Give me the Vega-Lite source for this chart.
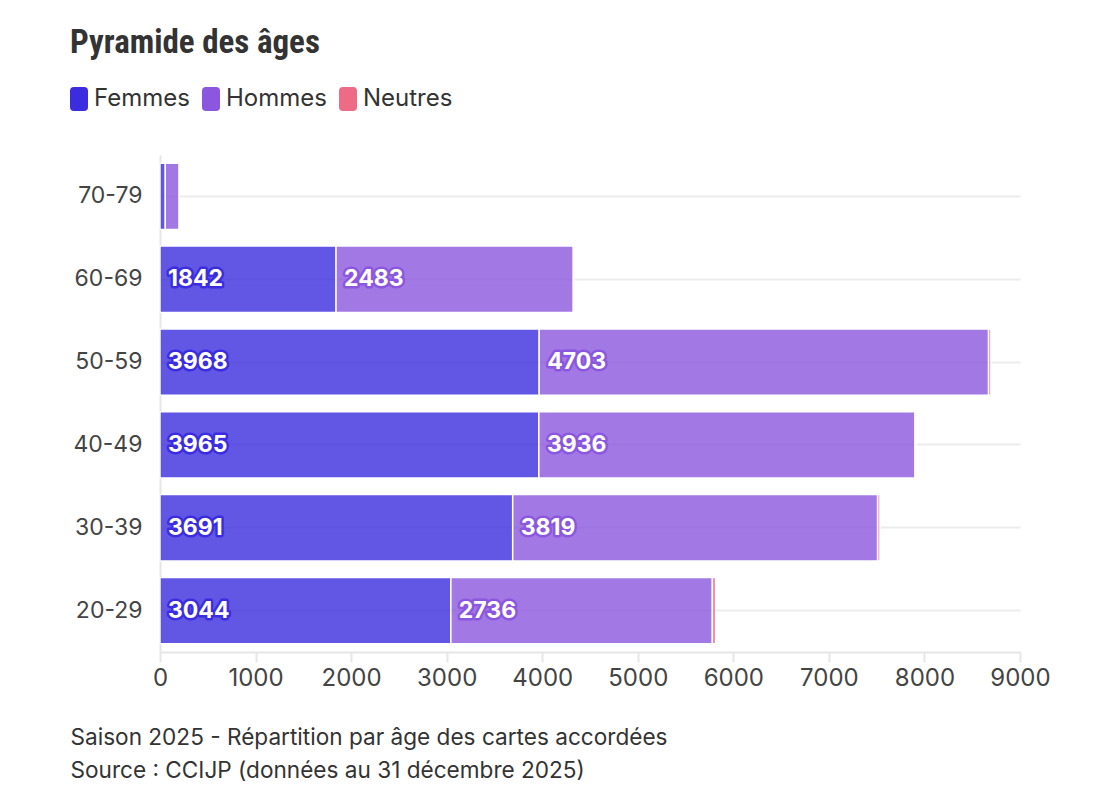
{
  "$schema": "https://vega.github.io/schema/vega-lite/v6.json",
  "width": 860,
  "height": 497,
  "autosize": "none",
  "padding": {"left": 160, "top": 155, "right": 90, "bottom": 158},
  "background": "white",
  "view": {"stroke": null},
  "title": {
    "text": "Pyramide des âges",
    "anchor": "start",
    "frame": "group",
    "dx": -90,
    "font": "Roboto Condensed, DejaVu Sans Condensed, Roboto",
    "fontWeight": "bold",
    "fontSize": 33,
    "color": "#333333",
    "offset": 27
  },
  "data": {
    "values": [
      {"age": "20-29", "sexe": "Femmes", "value": 3044},
      {"age": "20-29", "sexe": "Hommes", "value": 2736},
      {"age": "20-29", "sexe": "Neutres", "value": 35},
      {"age": "30-39", "sexe": "Femmes", "value": 3691},
      {"age": "30-39", "sexe": "Hommes", "value": 3819},
      {"age": "30-39", "sexe": "Neutres", "value": 25},
      {"age": "40-49", "sexe": "Femmes", "value": 3965},
      {"age": "40-49", "sexe": "Hommes", "value": 3936},
      {"age": "40-49", "sexe": "Neutres", "value": 15},
      {"age": "50-59", "sexe": "Femmes", "value": 3968},
      {"age": "50-59", "sexe": "Hommes", "value": 4703},
      {"age": "50-59", "sexe": "Neutres", "value": 25},
      {"age": "60-69", "sexe": "Femmes", "value": 1842},
      {"age": "60-69", "sexe": "Hommes", "value": 2483},
      {"age": "60-69", "sexe": "Neutres", "value": 12},
      {"age": "70-79", "sexe": "Femmes", "value": 55},
      {"age": "70-79", "sexe": "Hommes", "value": 145},
      {"age": "70-79", "sexe": "Neutres", "value": 3}
    ]
  },
  "transform": [
    {"stack": "value", "groupby": ["age"], "sort": [{"field": "sexe", "order": "ascending"}], "as": ["v0", "v1"]}
  ],
  "encoding": {
    "x": {
      "field": "v0",
      "type": "quantitative",
      "scale": {"domain": [0, 9000], "nice": false},
      "axis": {
        "values": [0, 1000, 2000, 3000, 4000, 5000, 6000, 7000, 8000, 9000],
        "format": "d",
        "grid": false,
        "domain": true,
        "domainColor": "#e6e6e6",
        "domainWidth": 2,
        "ticks": true,
        "tickColor": "#e6e6e6",
        "tickWidth": 2,
        "tickSize": 10,
        "labelPadding": 4,
        "labelFont": "Inter",
        "labelFontSize": 24,
        "labelColor": "#444444",
        "labelFlush": false,
        "title": ["Saison 2025 - Répartition par âge des cartes accordées", "Source : CCIJP (données au 31 décembre 2025)"],
        "titleFont": "Inter",
        "titleFontSize": 22.6,
        "titleFontWeight": "normal",
        "titleColor": "#333333",
        "titleAnchor": "start",
        "titleAlign": "left",
        "titleBaseline": "alphabetic",
        "titleLineHeight": 33,
        "titleX": -90,
        "titleY": 92
      }
    },
    "y": {
      "field": "age",
      "type": "nominal",
      "sort": "descending",
      "scale": {"paddingInner": 0.2, "paddingOuter": 0.1},
      "axis": {
        "title": null,
        "ticks": false,
        "domain": true,
        "domainColor": "#e6e6e6",
        "domainWidth": 2,
        "grid": true,
        "gridColor": "#ececec",
        "gridWidth": 2,
        "bandPosition": 0.5,
        "labelPadding": 18,
        "labelFont": "Inter",
        "labelFontSize": 23,
        "labelColor": "#444444"
      }
    }
  },
  "layer": [
    {
      "mark": {"type": "bar", "opacity": 0.8, "stroke": "white", "strokeWidth": 1.5, "strokeOpacity": 1},
      "encoding": {
        "x2": {"field": "v1"},
        "color": {
          "field": "sexe",
          "type": "nominal",
          "scale": {"domain": ["Femmes", "Hommes", "Neutres"], "range": ["#3b2ddf", "#8b57df", "#ee6b85"]},
          "legend": {
            "title": null,
            "orient": "none",
            "legendX": -93,
            "legendY": -68,
            "padding": 0,
            "direction": "horizontal",
            "symbolType": "M-0.42,-1L0.42,-1Q0.75,-1 0.75,-0.67L0.75,0.67Q0.75,1 0.42,1L-0.42,1Q-0.75,1 -0.75,0.67L-0.75,-0.67Q-0.75,-1 -0.42,-1Z",
            "symbolSize": 576,
            "symbolOpacity": 1,
            "symbolStrokeWidth": 0,
            "labelFont": "Inter",
            "labelFontSize": 24,
            "labelColor": "#333333",
            "labelOffset": 3,
            "columnPadding": 9
          }
        }
      }
    },
    {
      "transform": [{"filter": "datum.sexe !== 'Neutres' && datum.value > 500"}],
      "mark": {"type": "text", "align": "left", "baseline": "middle", "dx": 8, "font": "Inter", "fontWeight": "bold", "fontSize": 23, "strokeWidth": 5, "strokeJoin": "round"},
      "encoding": {
        "text": {"field": "value", "type": "quantitative", "format": "d"},
        "color": {"field": "sexe", "type": "nominal"},
        "stroke": {
          "field": "sexe",
          "type": "nominal",
          "scale": {"domain": ["Femmes", "Hommes", "Neutres"], "range": ["#3b2ddf", "#8b57df", "#ee6b85"]},
          "legend": null
        }
      }
    },
    {
      "transform": [{"filter": "datum.sexe !== 'Neutres' && datum.value > 500"}],
      "mark": {"type": "text", "align": "left", "baseline": "middle", "dx": 8, "font": "Inter", "fontWeight": "bold", "fontSize": 23, "fill": "white"},
      "encoding": {
        "text": {"field": "value", "type": "quantitative", "format": "d"}
      }
    }
  ]
}
